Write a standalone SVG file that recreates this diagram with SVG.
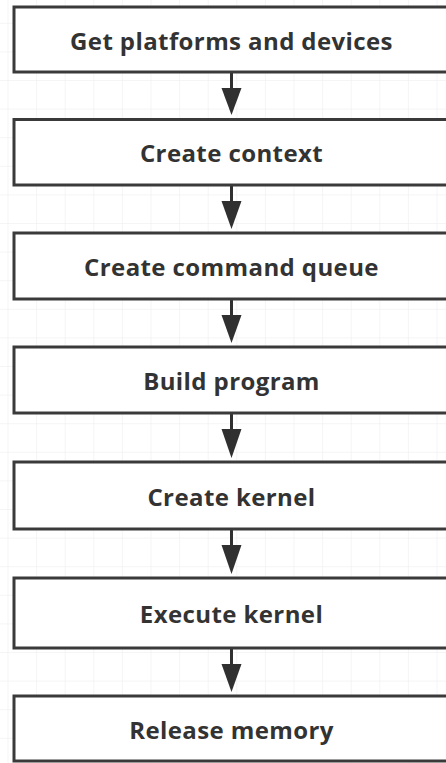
<svg xmlns="http://www.w3.org/2000/svg" width="446" height="763" viewBox="0 0 446 763">
  <defs>
    <pattern id="grid" x="7.5" y="22.8" width="28.6" height="28.6" patternUnits="userSpaceOnUse">
      <path d="M0 0H28.6M0 0V28.6" fill="none" stroke="#ebebeb" stroke-width="1"/>
    </pattern>
    <style>
      .box rect { fill: #ffffff; stroke: #3a3a3a; stroke-width: 3; }
      .box text { font-family: "Open Sans", "Liberation Sans", sans-serif; font-weight: bold; font-size: 24px; letter-spacing: 0.4px; fill: #333333; text-anchor: middle; }
      .link { fill: none; stroke: #303030; stroke-width: 3; }
      .head { fill: #303030; }
    </style>
  </defs>

  <rect width="446" height="763" fill="#ffffff"/>
  <rect width="446" height="763" fill="url(#grid)"/>

  <!-- connectors: vertical shaft plus filled triangular head -->
  <g id="connectors">
    <path class="link" d="M231.5 72V92"/>
    <path class="head" d="M221.5 88L241.5 88L231.5 115Z"/>
    <path class="link" d="M231.5 185V205"/>
    <path class="head" d="M221.5 201L241.5 201L231.5 229Z"/>
    <path class="link" d="M231.5 299V319"/>
    <path class="head" d="M221.5 315L241.5 315L231.5 343Z"/>
    <path class="link" d="M231.5 413V433"/>
    <path class="head" d="M221.5 429L241.5 429L231.5 458Z"/>
    <path class="link" d="M231.5 529V549"/>
    <path class="head" d="M221.5 545L241.5 545L231.5 574Z"/>
    <path class="link" d="M231.5 648V668"/>
    <path class="head" d="M221.5 664L241.5 664L231.5 692Z"/>
  </g>

  <g id="node-platforms" class="box">
    <rect x="14" y="7" width="436" height="65"/>
    <text x="231.5" y="49.5">Get platforms and devices</text>
  </g>
  <g id="node-context" class="box">
    <rect x="14" y="119.5" width="436" height="65.5"/>
    <text x="231.5" y="162">Create context</text>
  </g>
  <g id="node-queue" class="box">
    <rect x="14" y="233" width="436" height="66"/>
    <text x="231.5" y="276">Create command queue</text>
  </g>
  <g id="node-program" class="box">
    <rect x="14" y="347" width="436" height="66"/>
    <text x="231.5" y="390">Build program</text>
  </g>
  <g id="node-kernel" class="box">
    <rect x="14" y="462" width="436" height="67"/>
    <text x="231.5" y="505.5">Create kernel</text>
  </g>
  <g id="node-execute" class="box">
    <rect x="14" y="578" width="436" height="70"/>
    <text x="231.5" y="623">Execute kernel</text>
  </g>
  <g id="node-release" class="box">
    <rect x="14" y="696" width="436" height="65"/>
    <text x="231.5" y="738.5">Release memory</text>
  </g>
</svg>
